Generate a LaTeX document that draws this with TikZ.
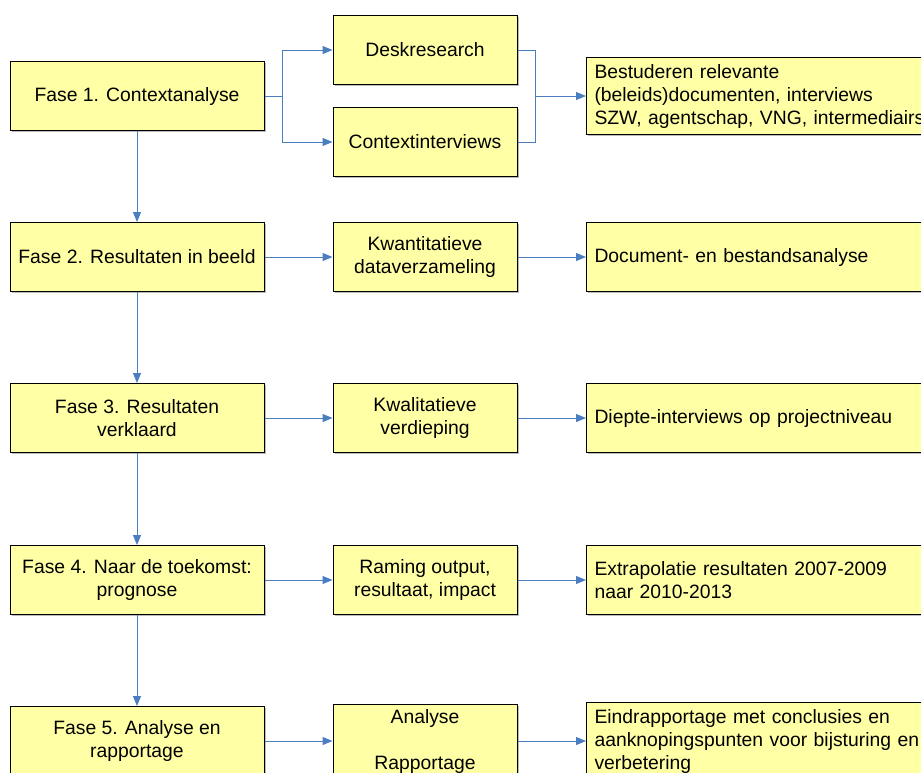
\documentclass[tikz,border=0pt]{standalone}
\usepackage{fontspec}
\setmainfont{Liberation Sans}
\usetikzlibrary{arrows.meta,shadows}

\definecolor{fasegeel}{RGB}{255,255,165}
\definecolor{pijlblauw}{RGB}{74,126,193}

\tikzset{every picture/.style={line width=0.75pt}}
\tikzset{
  blok/.style={draw=black, fill=fasegeel, line width=0.75pt, align=center,
    font=\fontsize{14.5}{17.25}\selectfont,
    drop shadow={shadow xshift=1.2pt, shadow yshift=-1.2pt, fill=black!45, opacity=0.6}},
  faseblok/.style={blok, minimum width=190.5pt, minimum height=51.75pt},
  midblok/.style={blok, minimum width=138pt, minimum height=51.75pt},
  eindblok/.style={blok, anchor=west, minimum width=270pt, minimum height=51.75pt,
    text width=258pt, inner sep=5pt, align=left},
  pijl/.style={draw=pijlblauw, line width=0.75pt, -{Triangle[length=7.5pt,width=6pt]}},
  lijn/.style={draw=pijlblauw, line width=0.75pt}
}

\begin{document}
\begin{tikzpicture}[x=0.75pt,y=0.75pt,yscale=-1]
\useasboundingbox (0,0) rectangle (921,772);
\clip (0,0) rectangle (921,772);

%Fase 1
\node [faseblok] (fase1) at (137,96) {Fase 1. Contextanalyse};
\node [midblok] (desk) at (425,50) {Deskresearch};
\node [midblok] (ctxint) at (425,142) {Contextinterviews};
\node [eindblok] (bron) at (586,96) {Bestuderen relevante\\(beleids)documenten, interviews\\SZW, agentschap, VNG, intermediairs};

%Fase 2
\node [faseblok] (fase2) at (137,257) {Fase 2. Resultaten in beeld};
\node [midblok] (kwant) at (425,257) {Kwantitatieve\\dataverzameling};
\node [eindblok] (docanalyse) at (586,257) {Document- en bestandsanalyse};

%Fase 3
\node [faseblok] (fase3) at (137,418) {Fase 3. Resultaten\\verklaard};
\node [midblok] (kwal) at (425,418) {Kwalitatieve\\verdieping};
\node [eindblok] (diepte) at (586,418) {Diepte-interviews op projectniveau};

%Fase 4
\node [faseblok] (fase4) at (137,580) {Fase 4. Naar de toekomst:\\prognose};
\node [midblok] (raming) at (425,580) {Raming output,\\resultaat, impact};
\node [eindblok] (extra) at (586,580) {Extrapolatie resultaten 2007-2009\\naar 2010-2013};

%Fase 5
\node [faseblok] (fase5) at (137,741) {Fase 5. Analyse en\\rapportage};
\node [midblok] (analyse) at (425,741) {Analyse\\[17.25pt]Rapportage};
\node [eindblok] (eind) at (586,741) {Eindrapportage met conclusies en\\aanknopingspunten voor bijsturing en\\verbetering};

%split and merge in fase 1
\coordinate (splitL) at (282,96);
\coordinate (splitR) at (535,96);
\draw [lijn] (fase1.east) -- (splitL);
\draw [pijl] (splitL) |- (desk.west);
\draw [pijl] (splitL) |- (ctxint.west);
\draw [lijn] (desk.east) -| (splitR);
\draw [lijn] (ctxint.east) -| (splitR);
\draw [pijl] (splitR) -- (bron.west);

%horizontal arrows
\draw [pijl] (fase2) -- (kwant);
\draw [pijl] (kwant) -- (docanalyse);
\draw [pijl] (fase3) -- (kwal);
\draw [pijl] (kwal) -- (diepte);
\draw [pijl] (fase4) -- (raming);
\draw [pijl] (raming) -- (extra);
\draw [pijl] (fase5) -- (analyse);
\draw [pijl] (analyse) -- (eind);

%vertical arrows
\draw [pijl] (fase1) -- (fase2);
\draw [pijl] (fase2) -- (fase3);
\draw [pijl] (fase3) -- (fase4);
\draw [pijl] (fase4) -- (fase5);
\end{tikzpicture}
\end{document}
